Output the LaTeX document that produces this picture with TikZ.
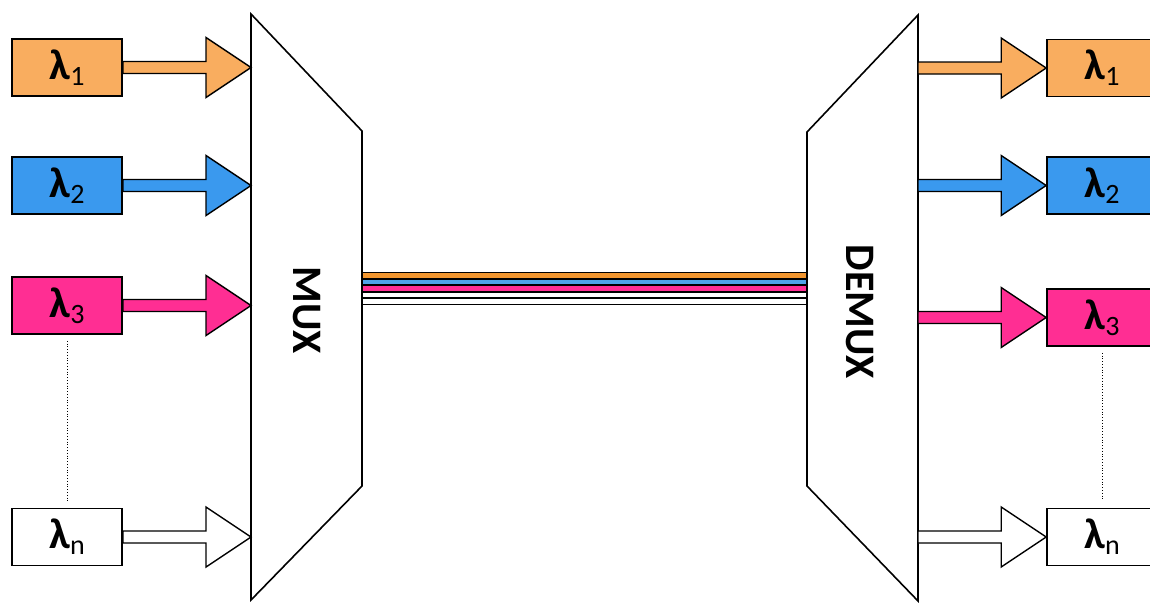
\documentclass[tikz,border=0pt]{standalone}
\usepackage{fontspec}
\newfontfamily\calfont{Carlito}
\usetikzlibrary{calc}
\definecolor{lorange}{HTML}{F9AD5F}
\definecolor{lblue}{HTML}{3A99EE}
\definecolor{lpink}{HTML}{FF2E93}
\definecolor{forange}{HTML}{F2962F}
\definecolor{fblue}{HTML}{4FA3E8}
\tikzset{
  lambox/.style={draw=black, line width=1.6pt, minimum width=110pt, minimum height=57pt, inner sep=0pt, font=\calfont\fontsize{43}{45}\selectfont},
  fat/.style={draw=black, line width=1.4pt, line join=miter},
  devline/.style={draw=black, line width=1.6pt, line join=miter},
  devlabel/.style={font=\calfont\bfseries\fontsize{42}{44}\selectfont, rotate=-90, inner sep=0pt},
  dotline/.style={black, line width=0.8pt, dotted},
  fibreout/.style={line width=7pt, black},
  fibrein/.style={line width=4.8pt},
}
\newcommand\lam[1]{{\bfseries λ}\raisebox{-6pt}{\fontsize{28}{30}\selectfont #1}}
\newcommand\fatarrow[3]{%
  \draw[fat, fill=#1] let \p1=(#2), \p2=(#3) in
    (\x1,\y2+6pt) -- (\x2-45pt,\y2+6pt) -- (\x2-45pt,\y2+30pt) -- (\x2,\y2)
    -- (\x2-45pt,\y2-30pt) -- (\x2-45pt,\y2-6pt) -- (\x1,\y2-6pt) -- cycle;}
\begin{document}
\begin{tikzpicture}[x=1pt,y=-1pt]
\useasboundingbox (0,0) rectangle (1150,603);
% MUX / DEMUX outlines
\coordinate (mA) at (251,14);
\coordinate (mB) at (362,131);
\coordinate (mC) at (362,486);
\coordinate (mD) at (251,600);
\draw[devline] (mA) -- (mB) -- (mC) -- (mD) -- cycle;
\coordinate (dA) at (918,15);
\coordinate (dB) at (807,132);
\coordinate (dC) at (807,486);
\coordinate (dD) at (918,601);
\draw[devline] (dA) -- (dB) -- (dC) -- (dD) -- cycle;
\node[devlabel] (mux) at (307,310) {MUX};
\node[devlabel] (demux) at (860,312) {DEMUX};
% fibre bundle
\coordinate (fL) at (362,275.5);
\coordinate (fR) at (807,275.5);
\foreach \o in {0,6.5,13,19.5,26}{
  \draw[fibreout] ($(fL)+(0,\o)$) -- ($(fR)+(0,\o)$);
}
\foreach \o/\c in {0/forange,6.5/fblue,13/lpink,19.5/white,26/white}{
  \draw[fibrein, \c] ($(fL)+(0.9,\o)$) -- ($(fR)+(-0.9,\o)$);
}
% left sources
\node[lambox, fill=lorange] (l1) at (67,67.5) {\lam{1}};
\node[lambox, fill=lblue] (l2) at (67,185.5) {\lam{2}};
\node[lambox, fill=lpink] (l3) at (67,305.5) {\lam{3}};
\node[lambox, fill=white] (ln) at (67,537) {\lam{n}};
\coordinate (mi1) at (251,67.5);
\coordinate (mi2) at (251,185.5);
\coordinate (mi3) at (251,305.5);
\coordinate (min) at (251,537);
\fatarrow{lorange}{l1.east}{mi1}
\fatarrow{lblue}{l2.east}{mi2}
\fatarrow{lpink}{l3.east}{mi3}
\fatarrow{white}{ln.east}{min}
\draw[dotline, shorten <=6pt, shorten >=7pt] (l3.south) -- (ln.north);
% right outputs
\node[lambox, fill=lorange] (r1) at (1102,68) {\lam{1}};
\node[lambox, fill=lblue] (r2) at (1102,185.5) {\lam{2}};
\node[lambox, fill=lpink] (r3) at (1102,317.5) {\lam{3}};
\node[lambox, fill=white] (rn) at (1102,537) {\lam{n}};
\coordinate (do1) at (918,68);
\coordinate (do2) at (918,185.5);
\coordinate (do3) at (918,317.5);
\coordinate (don) at (918,537);
\fatarrow{lorange}{do1}{r1.west}
\fatarrow{lblue}{do2}{r2.west}
\fatarrow{lpink}{do3}{r3.west}
\fatarrow{white}{don}{rn.west}
\draw[dotline, shorten <=6pt, shorten >=8pt] (r3.south) -- (rn.north);
\end{tikzpicture}
\end{document}
